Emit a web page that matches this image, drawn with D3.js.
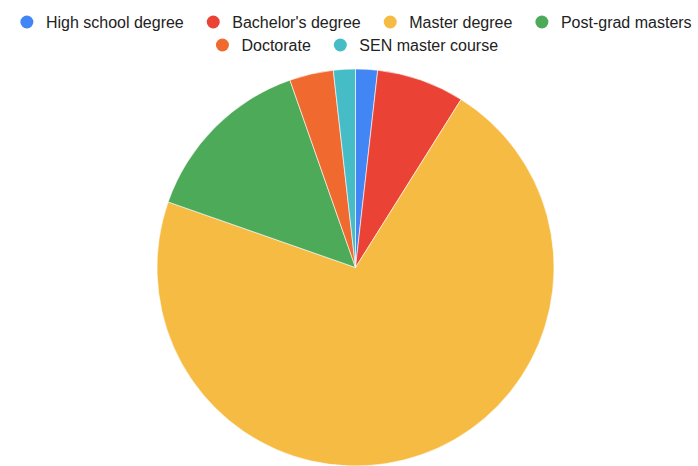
<!DOCTYPE html>
<html>
<head>
<meta charset="utf-8">
<script src="https://cdn.jsdelivr.net/npm/d3@7"></script>
<style>
  html, body { margin: 0; padding: 0; background: #fff; }
  svg { display: block; }
</style>
</head>
<body>
<svg id="chart" width="698" height="466"></svg>
<script>
// Highest qualification held by respondents
const categories = ["High school degree", "Bachelor's degree", "Master degree", "Post-grad masters", "Doctorate", "SEN master course"];
const counts = [1, 4, 40, 8, 2, 1];
const colors = ["#4285f4", "#ea4335", "#f6bb42", "#4caa58", "#f0692f", "#46bdc6"];

const width = 698, height = 466;
const svg = d3.select("#chart");

const data = categories.map((c, i) => ({ label: c, value: counts[i], color: colors[i] }));

// Pie
const cx = 355.5, cy = 267.5, radius = 198.5;
const pie = d3.pie().value(d => d.value).sort(null);
const arc = d3.arc().innerRadius(0).outerRadius(radius);

svg.append("g")
  .attr("transform", `translate(${cx},${cy})`)
  .selectAll("path")
  .data(pie(data))
  .join("path")
  .attr("d", arc)
  .attr("fill", d => d.data.color)
  .attr("stroke", "#fff")
  .attr("stroke-width", 0.6);

// Legend: two centred rows
const rows = [data.slice(0, 4), data.slice(4)];
const rowY = [22, 45];
const rowCenter = [356, 357];
const fontSize = 16;
const dotR = 6.5, dotGap = 12.5, itemGap = 23;

const legend = svg.append("g")
  .attr("font-family", "'Liberation Sans', Arial, sans-serif")
  .attr("font-size", fontSize)
  .attr("fill", "#222");

// measure label widths
const probe = legend.append("text").attr("visibility", "hidden");
const textWidth = s => { probe.text(s); return probe.node().getComputedTextLength(); };

rows.forEach((row, ri) => {
  const widths = row.map(d => textWidth(d.label));
  const itemW = widths.map(w => dotR * 2 + dotGap + w);
  const total = d3.sum(itemW) + itemGap * (row.length - 1);
  let x = rowCenter[ri] - total / 2;
  row.forEach((d, i) => {
    const g = legend.append("g").attr("transform", `translate(${x},${rowY[ri]})`);
    g.append("circle").attr("cx", dotR).attr("cy", 0).attr("r", dotR).attr("fill", d.color);
    g.append("text")
      .attr("x", dotR * 2 + dotGap)
      .attr("y", 0)
      .attr("dy", "0.35em")
      .text(d.label);
    x += itemW[i] + itemGap;
  });
});
probe.remove();
</script>
</body>
</html>
